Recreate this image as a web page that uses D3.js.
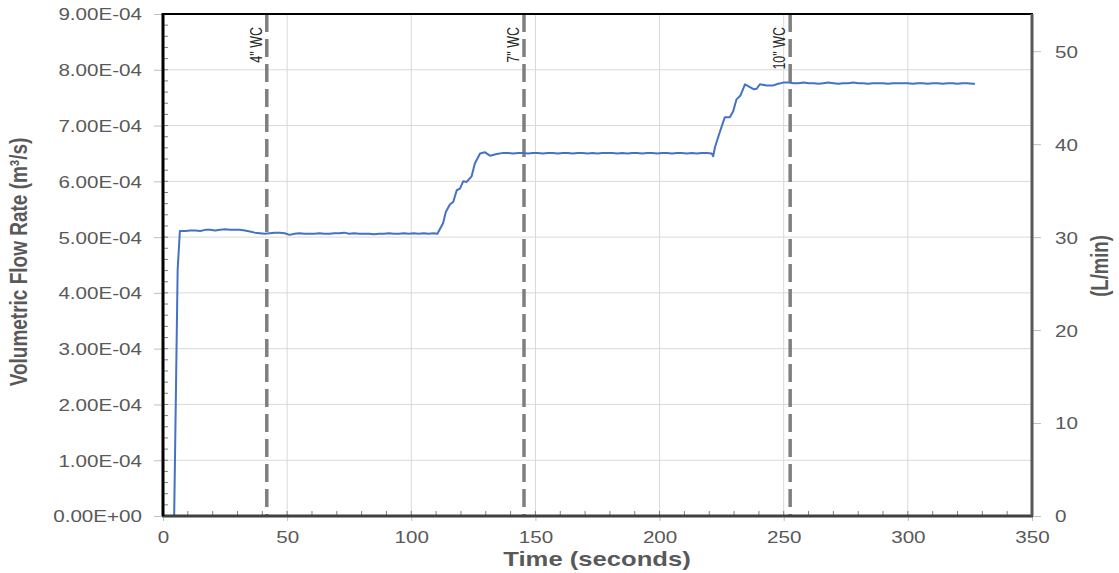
<!DOCTYPE html>
<html>
<head>
<meta charset="utf-8">
<script src="https://cdn.jsdelivr.net/npm/d3@7"></script>
<style>
  html, body { margin: 0; padding: 0; background: #fff; }
  svg { display: block; }
  text { font-family: "Liberation Sans", Arial, sans-serif; fill: #595959; }
</style>
</head>
<body>
<svg id="chart" width="1119" height="573"></svg>
<script>
// ---------------- data ----------------
const timeSec = [0, 4.5, 5.9, 6.8, 9, 11, 13, 15, 17, 19, 21, 23, 25, 27, 29, 31, 33, 35, 37, 39,
  41, 43, 45, 47, 49, 51, 53, 55, 57, 59, 61, 63, 65, 67, 69, 71, 73, 75, 77, 79, 81, 83, 85, 87, 89,
  91, 93, 95, 97, 99, 101, 103, 105, 107, 109, 110.5,
  112.8, 113.9, 115.6, 116.9, 118.3, 119.6, 120.9, 122.3, 124.3, 125.6, 127.7, 129.7, 131.7, 134.4, 137.1,
  139, 141, 143, 145, 147, 149, 151, 153, 155, 157, 159, 161, 163, 165, 167, 169, 171, 173, 175, 177,
  179, 181, 183, 185, 187, 189, 191, 193, 195, 197, 199, 201, 203, 205, 207, 209, 211, 213, 215, 217,
  219, 221,
  221.6, 222.3, 224.3, 226.3, 228.3, 229.6, 231.0, 232.6, 234.4, 236.4, 238.0, 239.1, 240.4, 243.1,
  245.8, 247.8, 249.8,
  252, 254, 256, 258, 260, 262, 264, 266, 268, 270, 272, 274, 276, 278, 280, 282, 284, 286, 288, 290,
  292, 294, 296, 298, 300, 302, 304, 306, 308, 310, 312, 314, 316, 318, 320, 322, 324, 326, 327];

const flowM3s = [0, 0, 4.41e-4, 5.11e-4, 5.11e-4, 5.12e-4, 5.12e-4, 5.11e-4, 5.13e-4, 5.13e-4, 5.12e-4,
  5.13e-4, 5.14e-4, 5.13e-4, 5.13e-4, 5.13e-4, 5.12e-4, 5.10e-4, 5.08e-4, 5.07e-4,
  5.06e-4, 5.07e-4, 5.08e-4, 5.08e-4, 5.07e-4, 5.04e-4, 5.06e-4, 5.07e-4, 5.06e-4, 5.06e-4, 5.06e-4,
  5.07e-4, 5.06e-4, 5.06e-4, 5.07e-4, 5.07e-4, 5.08e-4, 5.06e-4, 5.07e-4, 5.06e-4, 5.06e-4, 5.06e-4,
  5.05e-4, 5.06e-4, 5.06e-4, 5.07e-4, 5.06e-4, 5.06e-4, 5.07e-4, 5.06e-4, 5.07e-4, 5.06e-4, 5.07e-4,
  5.06e-4, 5.07e-4, 5.06e-4,
  5.25e-4, 5.45e-4, 5.59e-4, 5.63e-4, 5.84e-4, 5.87e-4, 6.00e-4, 5.99e-4, 6.09e-4, 6.32e-4, 6.50e-4,
  6.52e-4, 6.46e-4, 6.49e-4, 6.51e-4,
  6.51e-4, 6.50e-4, 6.51e-4, 6.51e-4, 6.50e-4, 6.51e-4, 6.51e-4, 6.50e-4, 6.51e-4, 6.51e-4, 6.50e-4,
  6.51e-4, 6.51e-4, 6.50e-4, 6.51e-4, 6.51e-4, 6.50e-4, 6.51e-4, 6.50e-4, 6.51e-4, 6.51e-4, 6.51e-4,
  6.50e-4, 6.51e-4, 6.50e-4, 6.51e-4, 6.51e-4, 6.50e-4, 6.51e-4, 6.51e-4, 6.50e-4, 6.51e-4, 6.51e-4,
  6.50e-4, 6.51e-4, 6.51e-4, 6.50e-4, 6.51e-4, 6.50e-4, 6.51e-4, 6.51e-4, 6.50e-4,
  6.45e-4, 6.61e-4, 6.89e-4, 7.15e-4, 7.15e-4, 7.25e-4, 7.47e-4, 7.54e-4, 7.74e-4, 7.69e-4, 7.65e-4,
  7.66e-4, 7.74e-4, 7.72e-4, 7.72e-4, 7.75e-4, 7.77e-4,
  7.77e-4, 7.76e-4, 7.76e-4, 7.77e-4, 7.76e-4, 7.76e-4, 7.75e-4, 7.76e-4, 7.77e-4, 7.76e-4, 7.75e-4,
  7.76e-4, 7.76e-4, 7.77e-4, 7.76e-4, 7.76e-4, 7.75e-4, 7.76e-4, 7.76e-4, 7.76e-4, 7.75e-4, 7.76e-4,
  7.76e-4, 7.76e-4, 7.76e-4, 7.75e-4, 7.76e-4, 7.76e-4, 7.75e-4, 7.76e-4, 7.76e-4, 7.75e-4, 7.76e-4,
  7.76e-4, 7.75e-4, 7.76e-4, 7.76e-4, 7.75e-4, 7.75e-4];

const markerTimes = [41.8, 145.4, 252.6];
const markerLabels = ['4" WC', '7" WC', '10" WC'];

const xTicks = [0, 50, 100, 150, 200, 250, 300, 350];
const leftTicks = [0, 1e-4, 2e-4, 3e-4, 4e-4, 5e-4, 6e-4, 7e-4, 8e-4, 9e-4];
const leftTickLabels = ["0.00E+00", "1.00E-04", "2.00E-04", "3.00E-04", "4.00E-04",
  "5.00E-04", "6.00E-04", "7.00E-04", "8.00E-04", "9.00E-04"];
const rightTicks = [0, 10, 20, 30, 40, 50];

const xTitle = "Time (seconds)";
const yTitle = "Volumetric Flow Rate (m\u00B3/s)";
const yRightTitle = "(L/min)";

// ---------------- layout ----------------
const L = 163, R = 1032, T = 14, B = 516;
const SX = 1.25;  // horizontal stretch of the original image

const svg = d3.select("#chart");
const x = d3.scaleLinear().domain([0, 350]).range([L, R]);
const y = d3.scaleLinear().domain([0, 9e-4]).range([B, T]);
const yR = d3.scaleLinear().domain([0, 54]).range([B, T]);

// gridlines
svg.append("g").selectAll("line").data(leftTicks.slice(1, -1)).join("line")
  .attr("x1", L).attr("x2", R).attr("y1", d => y(d)).attr("y2", d => y(d))
  .attr("stroke", "#d9d9d9").attr("stroke-width", 1);
svg.append("g").selectAll("line").data(xTicks.slice(1, -1)).join("line")
  .attr("x1", d => x(d)).attr("x2", d => x(d)).attr("y1", T).attr("y2", B)
  .attr("stroke", "#d9d9d9").attr("stroke-width", 1);

// minor ticks (inside)
const minorY = d3.range(0, 9e-4 + 1e-9, 0.2e-4);
svg.append("g").selectAll("line").data(minorY).join("line")
  .attr("x1", L).attr("x2", L + 5).attr("y1", d => y(d)).attr("y2", d => y(d))
  .attr("stroke", "#808080").attr("stroke-width", 1);
const minorX = d3.range(0, 351, 10);
svg.append("g").selectAll("line").data(minorX).join("line")
  .attr("x1", d => x(d)).attr("x2", d => x(d)).attr("y1", B).attr("y2", B - 5)
  .attr("stroke", "#808080").attr("stroke-width", 1);

// dashed markers
svg.append("g").selectAll("line").data(markerTimes).join("line")
  .attr("x1", d => x(d)).attr("x2", d => x(d)).attr("y1", T).attr("y2", B)
  .attr("stroke", "#7f7f7f").attr("stroke-width", 3.5).attr("stroke-dasharray", "18,7");
svg.append("g").selectAll("text").data(markerTimes).join("text")
  .attr("transform", d => `translate(${x(d) - 5},27) scale(${SX},1) rotate(-90)`)
  .attr("text-anchor", "end")
  .style("font-size", "12.5px").style("fill", "#262626")
  .text((d, i) => markerLabels[i]);

// series line
const pts = timeSec.map((t, i) => [t, flowM3s[i]]);
svg.append("path").datum(pts)
  .attr("fill", "none").attr("stroke", "#4472c4").attr("stroke-width", 2)
  .attr("stroke-linejoin", "round")
  .attr("d", d3.line().x(d => x(d[0])).y(d => y(d[1])));

// axes
const axL = svg.append("g").attr("transform", `translate(${L},0)`)
  .call(d3.axisLeft(y).tickValues(leftTicks).tickFormat((d, i) => leftTickLabels[i]).tickSize(9).tickSizeOuter(0));
axL.selectAll(".tick line").attr("stroke", "#bfbfbf");
axL.selectAll(".tick text").attr("x", null).attr("dy", "0.36em")
  .attr("transform", `translate(-21,0) scale(${SX},1)`)
  .style("font-size", "16.5px").style("fill", "#595959").attr("font-family", null);
axL.select(".domain").remove();

const axB = svg.append("g").attr("transform", `translate(0,${B})`)
  .call(d3.axisBottom(x).tickValues(xTicks).tickSize(5).tickSizeOuter(0));
axB.selectAll(".tick line").attr("stroke", "#bfbfbf");
axB.selectAll(".tick text").attr("y", null).attr("dy", null)
  .attr("transform", `translate(0,27) scale(${SX},1)`)
  .style("font-size", "16.5px").style("fill", "#595959").attr("font-family", null);
axB.select(".domain").remove();

const axR = svg.append("g").attr("transform", `translate(${R},0)`)
  .call(d3.axisRight(yR).tickValues(rightTicks).tickSize(9).tickSizeOuter(0));
axR.selectAll(".tick line").attr("stroke", "#bfbfbf");
axR.selectAll(".tick text").attr("x", null).attr("dy", "0.36em")
  .attr("transform", `translate(23,0) scale(${SX},1)`)
  .style("font-size", "16.5px").style("fill", "#595959").attr("font-family", null);
axR.select(".domain").remove();

// frame
svg.append("line").attr("x1", L).attr("x2", R + 1).attr("y1", T).attr("y2", T)
  .attr("stroke", "#000").attr("stroke-width", 2);
svg.append("line").attr("x1", L - 1).attr("x2", R + 1).attr("y1", B).attr("y2", B)
  .attr("stroke", "#404040").attr("stroke-width", 3);
svg.append("line").attr("x1", R).attr("x2", R).attr("y1", T).attr("y2", B)
  .attr("stroke", "#595959").attr("stroke-width", 3);
svg.append("line").attr("x1", L).attr("x2", L).attr("y1", T - 1).attr("y2", B)
  .attr("stroke", "#000").attr("stroke-width", 3);

// titles
svg.append("text")
  .attr("transform", `translate(597,566) scale(${SX},1)`)
  .attr("text-anchor", "middle")
  .style("font-size", "20.5px").style("font-weight", "bold").style("fill", "#595959")
  .text(xTitle);
svg.append("text")
  .attr("transform", `translate(26.5,262) scale(${SX},1) rotate(-90)`)
  .attr("text-anchor", "middle")
  .style("font-size", "19px").style("font-weight", "bold").style("fill", "#595959")
  .text(yTitle);
svg.append("text")
  .attr("transform", `translate(1108,266) scale(${SX},1) rotate(-90)`)
  .attr("text-anchor", "middle")
  .style("font-size", "18.5px").style("font-weight", "bold").style("fill", "#595959")
  .text(yRightTitle);
</script>
</body>
</html>
